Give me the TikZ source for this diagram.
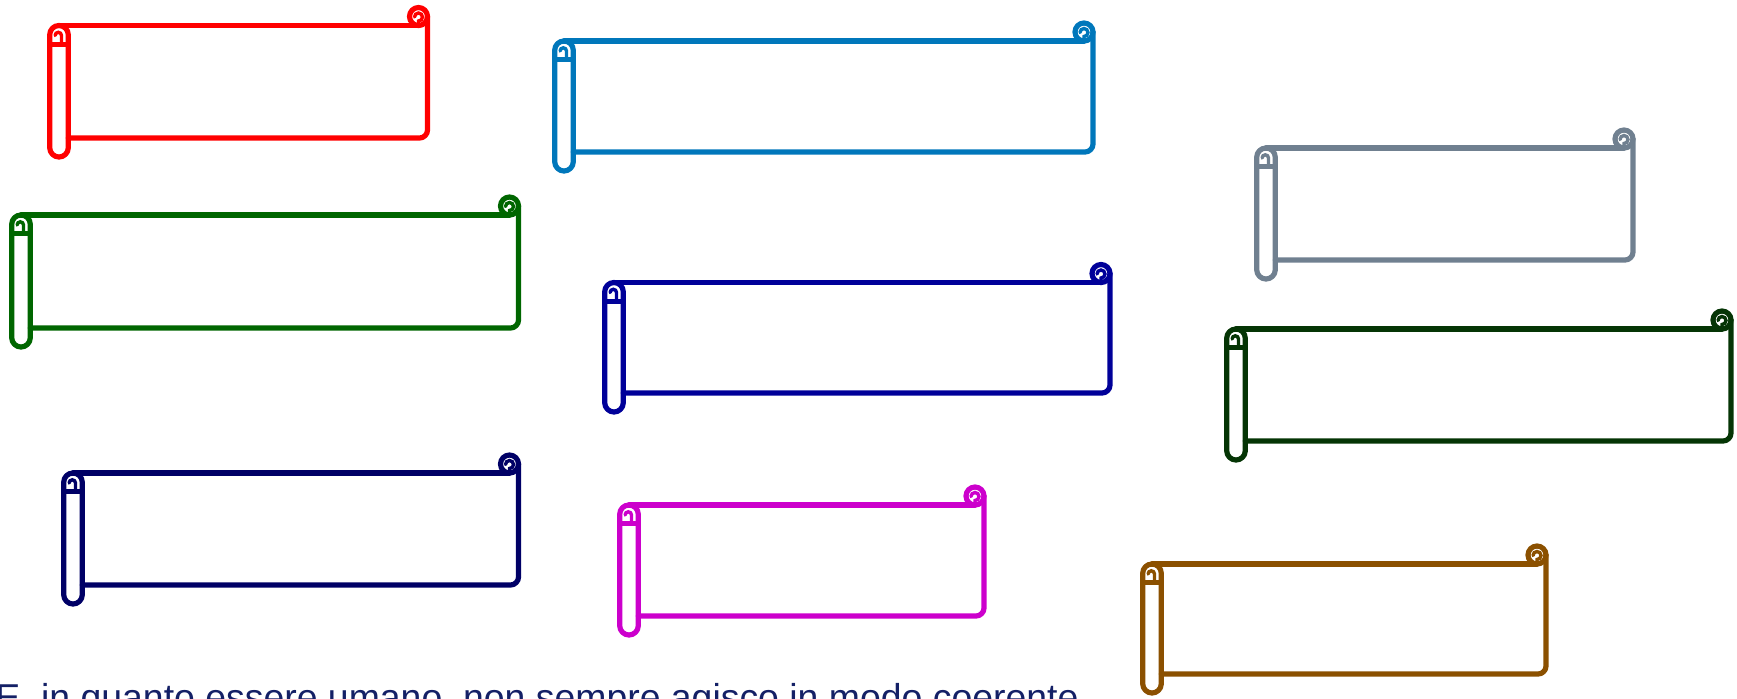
\documentclass[tikz,border=0pt]{standalone}
\usepackage{fontspec}
\setmainfont{Liberation Sans}
\usepackage{tikz}
\usetikzlibrary{calc}
\usepackage{xcolor}
\definecolor{scRed}{HTML}{FF0000}
\definecolor{scBlue}{HTML}{0077BB}
\definecolor{scGreen}{HTML}{006600}
\definecolor{scDarkBlue}{HTML}{000099}
\definecolor{scGray}{HTML}{708090}
\definecolor{scDarkGreen}{HTML}{053505}
\definecolor{scNavy}{HTML}{000066}
\definecolor{scMagenta}{HTML}{CC00CC}
\definecolor{scBrown}{HTML}{8B5000}
\definecolor{mottoNavy}{HTML}{142066}

\begin{document}
\begin{tikzpicture}[x=0.5pt, y=-0.5pt,
    scrollline/.style={line width=2.6pt, line join=round, line cap=round},
    curlline/.style={line width=1.7pt, line cap=round}]
    \useasboundingbox (0,0) rectangle (1737,698);
    % colour / roller x / top / right / bottom (px)
    \foreach \c/\l/\t/\r/\b in {scRed/59/25.5/427.5/138, scBlue/564/41/1093/152,
        scGreen/21/215/518.5/328, scDarkBlue/614/282.5/1110/393,
        scGray/1266/148/1633/260, scDarkGreen/1236/329/1731/441,
        scNavy/73/473/518.5/585, scMagenta/629/505/984/616,
        scBrown/1152/564/1546/674} {
        \draw[scrollline, \c, rounded corners=4.65pt]
            (\l-9.3,\t) rectangle (\l+9.3,\b+19);
        \draw[scrollline, \c] (\l-9.3,\t+18.6) -- (\l+9.3,\t+18.6);
        \draw[curlline, \c] (\l+2.5,\t+17) -- (\l+2.5,\t+10) arc (0:-180:3.2);
        \draw[scrollline, \c] (\l,\t) -- (\r-9,\t);
        \draw[scrollline, \c] (\r-9,\t-9) circle (9);
        \draw[curlline, \c] (\r-13,\t-8.5) arc (180:450:4) -- (\r-9,\t-2);
        \draw[scrollline, \c, rounded corners=4pt]
            (\r,\t-9) -- (\r,\b) -- (\l+9.3,\b);
    }
    \node[anchor=base west, inner sep=0pt, text=mottoNavy,
          font=\fontsize{18.7}{22}\selectfont] (motto) at (-5,710)
        {E, in quanto essere umano, non sempre agisco in modo coerente};
\end{tikzpicture}
\end{document}
